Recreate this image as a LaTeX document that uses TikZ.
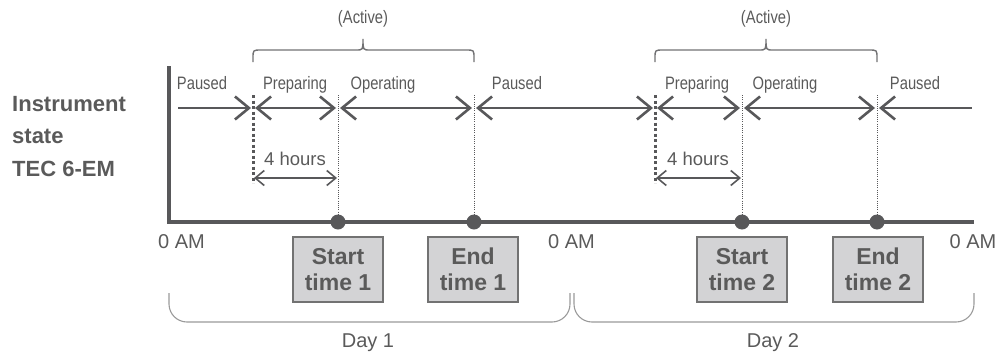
\documentclass[tikz,border=0pt]{standalone}
\usepackage{fontspec}
\setmainfont{Liberation Sans}
\newfontfamily\condfont[FakeStretch=0.82]{Liberation Sans}
\usetikzlibrary{arrows.meta}
\definecolor{ink}{HTML}{58585A}
\definecolor{txt}{HTML}{5A5A5A}
\definecolor{boxfill}{HTML}{D3D3D5}
\definecolor{boxline}{HTML}{727272}
\definecolor{light}{HTML}{9A9A9A}
\begin{document}
\begin{tikzpicture}[x=1pt,y=-1pt,
  statelbl/.style={font=\condfont\fontsize{18}{20}\selectfont, text=txt, inner sep=0pt, anchor=base},
  timelbl/.style={font=\fontsize{20}{22}\selectfont, text=txt, inner sep=0pt, anchor=base},
  hourlbl/.style={font=\fontsize{18.5}{20}\selectfont, text=txt, inner sep=0pt, anchor=base},
  sidelbl/.style={font=\bfseries\fontsize{22}{32.5}\selectfont, text=txt, inner sep=0pt, anchor=north west, align=left},
  timebox/.style={draw=boxline, fill=boxfill, line width=1.3pt, minimum width=90pt, minimum height=65pt, inner sep=0pt,
     font=\bfseries\fontsize{23}{26}\selectfont, text=txt, align=center},
  dot/.style={circle, fill=ink, minimum size=15pt, inner sep=0pt},
  axisline/.style={draw=ink, line width=4.5pt},
  statearrow/.style={draw=ink, line width=2.6pt},
  barb/.tip={Straight Barb[length=14pt,width=23pt,line width=2.6pt]},
  smallbarb/.tip={Straight Barb[length=9pt,width=15pt,line width=1.6pt]},
  hourarrow/.style={draw=ink, line width=1.6pt, smallbarb-smallbarb},
  boundary/.style={draw=ink, line width=3pt, dash pattern=on 3pt off 2.5pt},
  guide/.style={draw=ink, line width=0.8pt, dash pattern=on 1pt off 1.2pt},
  activebrace/.style={draw=ink!85, line width=1.4pt},
  daybracket/.style={draw=light, line width=1.1pt, rounded corners=18pt}
]
\useasboundingbox (0,0) rectangle (1006,359);

% axes
\coordinate (ytop) at (169,66);
\coordinate (orig) at (169,222);
\coordinate (xend) at (974,222);
\draw[axisline] (ytop) -- (orig) -- (xend);

% side label
\node[sidelbl] (side) at (12,96) {Instrument\\state\\TEC 6-EM};

% key points on the time axis
\node[dot] (s1) at (338,222) {};
\node[dot] (e1) at (474,222) {};
\node[dot] (s2) at (742,222) {};
\node[dot] (e2) at (877,222) {};

% state boundaries
\coordinate (b1top) at (253,95);  \coordinate (b1bot) at (253,183);
\coordinate (b2top) at (655,95);  \coordinate (b2bot) at (655,183);
\draw[boundary] (b1top) -- (b1bot);
\draw[boundary] (b2top) -- (b2bot);
\coordinate (g1) at (338,95); \coordinate (g2) at (474,95);
\coordinate (g3) at (742,95); \coordinate (g4) at (877,95);
\draw[guide] (g1) -- (s1.center);
\draw[guide] (g2) -- (e1.center);
\draw[guide] (g3) -- (s2.center);
\draw[guide] (g4) -- (e2.center);

% state arrows
\coordinate (p0) at (178,108);
\coordinate (a1) at (251,108); \coordinate (a2) at (255,108);
\coordinate (a3) at (336,108); \coordinate (a4) at (340,108);
\coordinate (a5) at (472,108); \coordinate (a6) at (476,108);
\coordinate (a7) at (653,108); \coordinate (a8) at (657,108);
\coordinate (a9) at (740,108); \coordinate (a10) at (744,108);
\coordinate (a11) at (875,108); \coordinate (a12) at (879,108);
\coordinate (pend) at (972,108);
\draw[statearrow, -barb] (p0) -- (a1);
\draw[statearrow, barb-barb] (a2) -- (a3);
\draw[statearrow, barb-barb] (a4) -- (a5);
\draw[statearrow, barb-barb] (a6) -- (a7);
\draw[statearrow, barb-barb] (a8) -- (a9);
\draw[statearrow, barb-barb] (a10) -- (a11);
\draw[statearrow, barb-] (a12) -- (pend);

% state labels
\node[statelbl] (l1) at (202,89) {Paused};
\node[statelbl] (l2) at (295,89) {Preparing};
\node[statelbl] (l3) at (383,89) {Operating};
\node[statelbl] (l4) at (517,89) {Paused};
\node[statelbl] (l5) at (697,89) {Preparing};
\node[statelbl] (l6) at (785,89) {Operating};
\node[statelbl] (l7) at (915,89) {Paused};

% 4 hours
\coordinate (h1a) at (254,178); \coordinate (h1b) at (337,178);
\coordinate (h2a) at (656,178); \coordinate (h2b) at (741,178);
\draw[hourarrow] (h1a) -- (h1b);
\draw[hourarrow] (h2a) -- (h2b);
\node[hourlbl] (hr1) at (295,165) {4 hours};
\node[hourlbl] (hr2) at (698,165) {4 hours};

% active braces
\draw[activebrace] (253,62) -- (253,58) .. controls (253,50) .. (261,50) -- (356,50)
   .. controls (363,50) .. (363,39) .. controls (363,50) .. (370,50) -- (466,50)
   .. controls (474,50) .. (474,58) -- (474,62);
\draw[activebrace] (655,62) -- (655,58) .. controls (655,50) .. (663,50) -- (759,50)
   .. controls (766,50) .. (766,39) .. controls (766,50) .. (773,50) -- (869,50)
   .. controls (877,50) .. (877,58) -- (877,62);
\node[statelbl] (act1) at (363,23) {(Active)};
\node[statelbl] (act2) at (766,23) {(Active)};

% time labels
\node[timelbl] (t0) at (181.5,248) {0 AM};
\node[timelbl] (t1) at (571.5,248) {0 AM};
\node[timelbl] (t2) at (973,248) {0 AM};

% boxes
\node[timebox] (bs1) at (338,269.5) {Start\\time 1};
\node[timebox] (be1) at (473,269.5) {End\\time 1};
\node[timebox] (bs2) at (742,269.5) {Start\\time 2};
\node[timebox] (be2) at (878,269.5) {End\\time 2};

% day brackets
\draw[daybracket] (169,293) -- (169,322) -- (570,322) -- (570,293);
\draw[daybracket] (574,293) -- (574,322) -- (974,322) -- (974,293);
\node[timelbl] (d1) at (368,347) {Day 1};
\node[timelbl] (d2) at (773,347) {Day 2};
\end{tikzpicture}
\end{document}
